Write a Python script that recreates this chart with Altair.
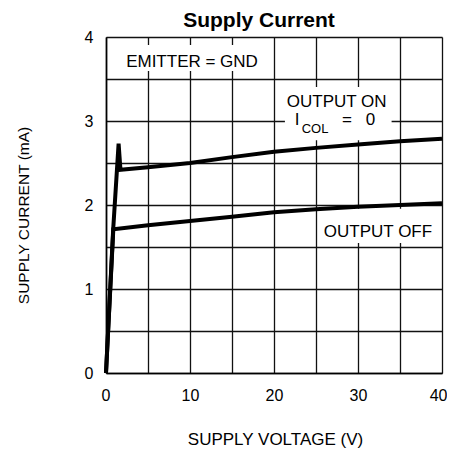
import altair as alt
import pandas as pd

# ---- data ----
volt_on = [0, 0.85, 1.5, 1.72, 5, 10, 15, 20, 25, 30, 35, 40]
curr_on = [0, 1.70, 2.73, 2.42, 2.45, 2.50, 2.57, 2.635, 2.68, 2.72, 2.76, 2.79]
volt_off = [0, 0.87, 5, 10, 15, 20, 25, 30, 35, 40]
curr_off = [0, 1.71, 1.76, 1.81, 1.86, 1.915, 1.95, 1.98, 2.00, 2.02]

x_ticks = [0, 5, 10, 15, 20, 25, 30, 35, 40]
y_ticks = [0, 0.5, 1, 1.5, 2, 2.5, 3, 3.5, 4]

# annotation labels (data coordinates)
ann_text = ["EMITTER = GND", "OUTPUT ON", "I", "=", "0", "OUTPUT OFF", "COL"]
ann_x = [10.24, 27.46, 22.74, 28.69, 31.49, 32.38, 24.88]
ann_y = [3.646, 3.17, 2.952, 2.952, 2.952, 1.623, 2.857]
ann_fs = [17, 17, 17, 17, 17, 17, 13]

# white boxes behind the labels
box_x1 = [1.4, 21.3, 25.5]
box_x2 = [19.0, 34.0, 39.4]
box_y1 = [3.595, 2.77, 1.548]
box_y2 = [3.905, 3.405, 1.955]

FONT = "Liberation Sans"

lines = pd.DataFrame(
    {
        "v": volt_on + volt_off,
        "i": curr_on + curr_off,
        "s": ["on"] * len(volt_on) + ["off"] * len(volt_off),
        "o": list(range(len(volt_on))) + list(range(len(volt_off))),
    }
)
ann = pd.DataFrame({"t": ann_text, "v": ann_x, "i": ann_y, "fs": ann_fs})
boxes = pd.DataFrame({"x1": box_x1, "x2": box_x2, "y1": box_y1, "y2": box_y2})

xscale = alt.Scale(domain=[0, 40], nice=False, zero=False)
yscale = alt.Scale(domain=[0, 4], nice=False, zero=False)

xaxis = alt.Axis(
    values=x_ticks,
    labelExpr="datum.value % 10 == 0 ? format(datum.value, 'd') : ''",
    grid=True, gridColor="#111111", gridWidth=1.3, gridOpacity=1,
    ticks=False, domainColor="black", domainWidth=1.6,
    labelFont=FONT, labelFontSize=16, labelColor="black",
    labelPadding=14, labelFlush=True, labelFlushOffset=5, labelOverlap=False,
    title="SUPPLY VOLTAGE (V)", titleFont=FONT, titleFontSize=17,
    titleFontWeight="normal", titleColor="black",
    titleX=169, titleY=66, titleBaseline="middle",
)
yaxis = alt.Axis(
    values=y_ticks,
    labelExpr="datum.value % 1 == 0 ? format(datum.value, 'd') : ''",
    grid=True, gridColor="#111111", gridWidth=1.3, gridOpacity=1,
    ticks=False, domainColor="black", domainWidth=1.6,
    labelFont=FONT, labelFontSize=16, labelColor="black",
    labelPadding=13, labelFlush=False, labelOverlap=False,
    title="SUPPLY CURRENT (mA)", titleFont=FONT, titleFontSize=15.5,
    titleFontWeight="normal", titleColor="black",
    titleX=-83, titleY=178, titleBaseline="middle",
)

base_lines = alt.Chart(lines).mark_line(
    color="black", strokeWidth=4, strokeJoin="miter", strokeCap="butt"
).encode(
    x=alt.X("v:Q", scale=xscale, axis=xaxis),
    y=alt.Y("i:Q", scale=yscale, axis=yaxis),
    detail="s:N",
    order="o:Q",
)

box_layer = alt.Chart(boxes).mark_rect(color="white", opacity=1).encode(
    x=alt.X("x1:Q", scale=xscale),
    x2="x2:Q",
    y=alt.Y("y1:Q", scale=yscale),
    y2="y2:Q",
)

text_layer = alt.Chart(ann).mark_text(
    font=FONT, color="black", align="center", baseline="alphabetic"
).encode(
    x=alt.X("v:Q", scale=xscale),
    y=alt.Y("i:Q", scale=yscale),
    text="t:N",
    size=alt.Size("fs:Q", scale=None, legend=None),
)

chart = (
    alt.layer(box_layer, base_lines, text_layer)
    .properties(
        width=336,
        height=336,
        title=alt.TitleParams(
            "Supply Current", font=FONT, fontSize=21, fontWeight="bold",
            color="black", anchor="middle", frame="group", dx=-15, dy=8,
            offset=6,
        ),
        autosize=alt.AutoSizeParams(type="none"),
        padding={"left": 98, "top": 29, "right": 5, "bottom": 81},
    )
    .configure_view(stroke="black", strokeWidth=1.6)
    .configure(background="white")
)

chart.save("out.html", embed_options={"renderer": "svg", "actions": False})
